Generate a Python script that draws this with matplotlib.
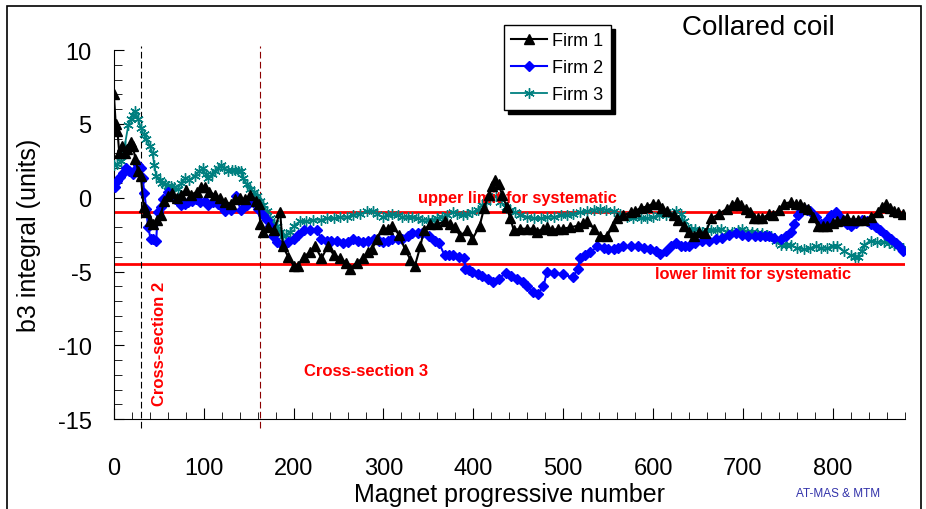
import matplotlib.pyplot as plt
from matplotlib.patches import Rectangle
from matplotlib.ticker import MultipleLocator

plt.rcParams['font.family'] = ['Liberation Sans', 'DejaVu Sans']
plt.rcParams['axes.unicode_minus'] = False

# Firm 1 (black triangles)
x1 = [0, 2, 4, 6, 9, 12, 15, 19, 21, 24, 27, 30, 33, 36, 40, 44, 48, 52, 56, 60,
      65, 70, 75, 80, 86, 92, 97, 101, 106, 112, 118, 124, 130, 135, 140, 146, 152, 158, 161, 163,
      166, 172, 178, 185, 188, 194, 200, 205, 211, 218, 224, 231, 238, 245, 252, 258, 263, 270, 277, 283,
      287, 293, 299, 305, 310, 317, 324, 330, 335, 341, 345, 352, 360, 368, 374, 380, 385, 393, 399, 407,
      412, 417, 421, 424, 428, 432, 437, 441, 445, 452, 460, 466, 471, 477, 482, 488, 494, 500, 508, 516,
      522, 527, 534, 541, 549, 555, 560, 567, 575, 580, 586, 593, 600, 606, 610, 616, 623, 628, 634, 640,
      645, 651, 658, 665, 673, 682, 688, 693, 698, 703, 708, 712, 717, 721, 729, 733, 740, 746, 753, 759,
      764, 768, 772, 778, 783, 789, 794, 800, 805, 811, 816, 822, 828, 835, 842, 850, 855, 859, 864, 868,
      873, 878]
y1 = [7.0, 5.0, 4.5, 3.0, 3.5, 3.0, 3.3, 3.8, 3.5, 2.6, 1.8, 1.5, -0.6, -1.0, -1.6, -1.8, -1.5, -1.2, -0.2, 0.1,
      0.3, 0.0, 0.2, 0.5, 0.2, 0.4, 0.7, 0.75, 0.4, 0.2, 0.0, -0.3, -0.4, -0.1, 0.0, -0.1, 0.2, -0.2, -0.4, -1.8,
      -2.3, -2.0, -2.2, -1.0, -3.3, -4.0, -4.6, -4.6, -4.0, -3.7, -3.3, -4.1, -3.3, -3.9, -4.1, -4.4, -4.8, -4.4, -4.1, -3.7,
      -3.5, -2.8, -2.1, -2.1, -1.9, -2.5, -3.5, -4.2, -4.6, -3.3, -2.2, -1.8, -1.8, -1.6, -1.8, -2.0, -2.6, -2.2, -2.8, -1.9,
      -0.7, 0.2, 0.8, 1.2, 0.9, 0.2, -0.6, -1.4, -2.2, -2.1, -2.1, -2.1, -2.3, -2.1, -2.0, -2.2, -2.1, -2.1, -2.0, -1.9,
      -1.7, -1.6, -2.1, -2.6, -2.6, -1.9, -1.4, -1.2, -1.0, -0.9, -0.7, -0.6, -0.4, -0.4, -0.7, -0.9, -1.2, -1.5, -1.9, -2.3,
      -2.6, -2.3, -2.4, -1.4, -1.1, -0.75, -0.5, -0.3, -0.5, -0.75, -1.0, -1.4, -1.4, -1.4, -1.1, -1.2, -0.8, -0.4, -0.3, -0.4,
      -0.4, -0.6, -0.75, -1.3, -1.9, -1.9, -1.9, -1.7, -1.6, -1.5, -1.4, -1.5, -1.5, -1.5, -1.3, -1.0, -0.6, -0.4, -0.7, -0.9,
      -1.0, -1.1]

# Firm 2 (blue diamonds)
x2 = [1, 4, 7, 10, 13, 17, 21, 24, 27, 30, 32, 34, 36, 38, 41, 44, 47, 49, 52, 55,
      60, 64, 68, 72, 75, 79, 82, 87, 91, 96, 101, 105, 110, 116, 120, 124, 130, 136, 141, 148,
      155, 160, 166, 170, 174, 177, 182, 188, 194, 200, 205, 211, 218, 226, 231, 237, 242, 248, 255, 260,
      266, 272, 277, 283, 289, 295, 299, 305, 310, 316, 321, 327, 332, 338, 343, 351, 357, 362, 368, 373,
      377, 384, 390, 391, 395, 399, 405, 410, 416, 422, 428, 436, 442, 449, 455, 460, 466, 472, 478, 482,
      490, 500, 511, 516, 519, 524, 530, 538, 545, 550, 556, 561, 567, 575, 583, 590, 597, 603, 608, 614,
      620, 626, 631, 636, 640, 647, 654, 662, 670, 677, 685, 692, 699, 706, 713, 719, 725, 729, 735, 742,
      748, 753, 757, 761, 765, 767, 771, 775, 781, 787, 792, 798, 803, 808, 812, 816, 820, 826, 833, 838,
      842, 848, 853, 859, 865, 870, 874, 878]
y2 = [0.7, 1.1, 1.4, 1.7, 2.0, 1.8, 1.6, 1.9, 2.2, 2.0, 1.3, 0.3, -0.75, -2.0, -2.8, -2.8, -2.9, -1.0, -0.6, -0.1,
      0.4, 0.1, -0.1, -0.3, -0.5, -0.4, -0.3, -0.2, -0.1, -0.3, -0.2, -0.5, -0.3, -0.4, -0.6, -0.9, -0.8, 0.1, -0.8, -0.5,
      -0.3, -0.75, -1.2, -1.5, -1.9, -2.6, -3.0, -3.3, -3.0, -2.8, -2.5, -2.2, -2.2, -2.2, -2.8, -2.9, -2.9, -2.9, -3.1, -3.0,
      -2.8, -2.9, -3.0, -2.9, -2.8, -2.9, -3.0, -2.9, -2.8, -2.8, -2.8, -2.6, -2.4, -2.4, -2.4, -2.6, -2.9, -3.1, -3.9, -3.9,
      -3.9, -4.0, -4.1, -4.8, -4.9, -5.0, -5.2, -5.3, -5.5, -5.7, -5.5, -5.1, -5.3, -5.5, -5.7, -6.0, -6.4, -6.5, -6.0, -5.0,
      -5.1, -5.2, -5.4, -4.8, -4.1, -3.9, -3.7, -3.3, -3.4, -3.5, -3.5, -3.4, -3.3, -3.3, -3.3, -3.4, -3.5, -3.6, -3.8, -3.6,
      -3.3, -3.1, -3.3, -3.3, -3.3, -3.1, -2.9, -2.9, -2.8, -2.7, -2.5, -2.4, -2.5, -2.6, -2.6, -2.6, -2.6, -2.6, -2.7, -2.8,
      -2.6, -2.3, -1.8, -1.2, -0.9, -0.75, -0.8, -0.9, -1.3, -1.8, -1.6, -1.2, -1.0, -1.3, -1.6, -1.8, -1.9, -1.7, -1.5, -1.6,
      -1.8, -2.0, -2.2, -2.5, -2.8, -3.1, -3.3, -3.6]

# Firm 3 (teal asterisks)
x3 = [0, 4, 8, 12, 16, 19, 21, 24, 27, 30, 33, 36, 40, 43, 45, 47, 51, 54, 57, 60,
      63, 67, 71, 75, 79, 84, 90, 95, 99, 102, 105, 109, 112, 116, 119, 123, 127, 131, 135, 138,
      141, 144, 148, 152, 156, 159, 163, 166, 170, 174, 178, 181, 185, 188, 192, 196, 200, 207, 214, 222,
      230, 237, 245, 252, 259, 266, 274, 282, 288, 293, 299, 305, 310, 316, 321, 327, 332, 338, 343, 349,
      354, 360, 365, 371, 377, 382, 388, 393, 399, 405, 410, 414, 418, 425, 430, 436, 441, 446, 452, 460,
      467, 475, 482, 490, 497, 504, 511, 519, 527, 534, 541, 548, 556, 563, 571, 578, 586, 593, 600, 607,
      614, 619, 625, 631, 634, 637, 642, 647, 654, 660, 665, 671, 676, 682, 688, 694, 699, 705, 710, 716,
      721, 727, 731, 737, 742, 748, 753, 760, 768, 775, 781, 787, 794, 800, 805, 812, 820, 825, 828, 832,
      835, 842, 849, 857, 862, 868, 873, 878]
y3 = [2.2, 2.3, 2.5, 3.5, 4.9, 5.3, 5.6, 5.9, 5.3, 4.7, 4.3, 4.0, 3.5, 3.0, 2.2, 1.5, 1.2, 1.0, 0.9, 0.8,
      0.8, 0.7, 0.6, 1.0, 1.3, 1.2, 1.5, 1.8, 2.0, 1.6, 1.3, 1.6, 1.8, 2.0, 2.2, 2.0, 1.8, 1.9, 1.9, 1.8,
      1.8, 1.3, 0.9, 0.6, 0.4, 0.1, -0.2, -0.5, -0.9, -1.4, -1.7, -1.9, -2.3, -2.6, -2.5, -2.3, -1.9, -1.6, -1.6, -1.5,
      -1.5, -1.4, -1.4, -1.3, -1.3, -1.2, -1.1, -0.9, -0.9, -1.1, -1.3, -1.2, -1.1, -1.2, -1.3, -1.3, -1.3, -1.4, -1.5, -1.5,
      -1.5, -1.4, -1.3, -1.2, -1.0, -1.1, -1.2, -1.1, -1.0, -0.8, -0.5, -0.3, -0.1, 0.1, -0.3, -0.6, -0.8, -1.0, -1.2, -1.3,
      -1.4, -1.4, -1.3, -1.3, -1.2, -1.2, -1.1, -1.0, -0.9, -0.8, -0.75, -0.8, -0.9, -1.1, -1.3, -1.4, -1.4, -1.4, -1.3, -1.2,
      -1.2, -1.1, -0.9, -1.1, -1.6, -2.0, -2.1, -2.1, -2.3, -2.2, -2.2, -2.2, -2.1, -2.3, -2.3, -2.2, -2.1, -2.3, -2.3, -2.4,
      -2.4, -2.5, -2.6, -2.9, -3.2, -3.2, -3.2, -3.4, -3.5, -3.4, -3.3, -3.4, -3.4, -3.3, -3.3, -3.6, -3.9, -4.0, -4.0, -3.6,
      -3.2, -2.9, -3.0, -3.0, -3.1, -3.2, -3.3, -3.4]

upper_limit = -1.0
lower_limit = -4.5
cs2_x = 30
cs3_x = 163

fig = plt.figure(figsize=(9.26, 5.10), dpi=100)
ax = fig.add_axes([0.123, 0.176, 0.854, 0.724])

ax.plot(x3, y3, color='#008080', lw=1.3, marker=(6, 2, 0), ms=7.5, mew=1.0, label='Firm 3', zorder=3)
ax.plot(x2, y2, color='#0000FF', lw=1.5, marker='D', ms=5, label='Firm 2', zorder=4)
ax.plot(x1, y1, color='black', lw=1.5, marker='^', ms=7, label='Firm 1', zorder=5)

ax.plot([0, 880], [upper_limit, upper_limit], color='#FF0000', lw=2, zorder=2)
ax.plot([0, 880], [lower_limit, lower_limit], color='#FF0000', lw=2, zorder=2)
ax.vlines(cs2_x, -15.6, 10.3, colors='black', linestyles=(0, (6, 3)), lw=0.8, clip_on=False)
ax.vlines(cs3_x, -15.6, 10.3, colors='#8B0000', linestyles=(0, (6, 3)), lw=0.8, clip_on=False)

ax.text(449, 0.0, 'upper limit for systematic', color='#FF0000', fontsize=11.8,
        fontweight='bold', ha='center', va='center')
ax.text(602, -5.1, 'lower limit for systematic', color='#FF0000', fontsize=11.8,
        fontweight='bold', ha='left', va='center')
ax.text(211, -11.7, 'Cross-section 3', color='#FF0000', fontsize=12,
        fontweight='bold', ha='left', va='center')
ax.text(51, -9.8, 'Cross-section 2', color='#FF0000', fontsize=12,
        fontweight='bold', ha='center', va='center', rotation=90)

ax.set_xlim(0, 880)
ax.set_ylim(-15, 10)
ax.xaxis.set_major_locator(MultipleLocator(100))
ax.xaxis.set_minor_locator(MultipleLocator(20))
ax.yaxis.set_major_locator(MultipleLocator(5))
ax.yaxis.set_minor_locator(MultipleLocator(1))
ax.tick_params(axis='x', which='major', direction='in', length=8, labelsize=17, pad=27)
ax.tick_params(axis='x', which='minor', direction='in', length=5)
ax.tick_params(axis='y', which='major', direction='in', length=7, labelsize=17, pad=16)
ax.tick_params(axis='y', which='minor', direction='in', length=6)
for s in ['top', 'right']:
    ax.spines[s].set_visible(False)

ax.set_xlabel('Magnet progressive number', fontsize=18, labelpad=2)
ax.set_ylabel('b3 integral (units)', fontsize=18, labelpad=12)

handles, labels = ax.get_legend_handles_labels()
order = [2, 1, 0]
leg = ax.legend([handles[i] for i in order], [labels[i] for i in order],
                loc='upper left', bbox_to_anchor=(0.544, 0.949), bbox_transform=fig.transFigure,
                fontsize=13, fancybox=False, edgecolor='black', framealpha=1,
                shadow={'color': 'black', 'alpha': 1, 'ox': 3, 'oy': -3},
                handlelength=2.0, borderpad=0.4, labelspacing=0.55, handletextpad=0.3,
                borderaxespad=0)
leg.get_frame().set_linewidth(1)

fig.text(0.737, 0.946, 'Collared coil', fontsize=20, ha='left', va='center')
fig.text(0.905, 0.031, 'AT-MAS & MTM', fontsize=8.5, color='#3333AA', ha='center', va='center')

fig.patches.append(Rectangle((0.008, -0.02), 0.987, 1.006, transform=fig.transFigure,
                             fill=False, edgecolor='black', lw=1.2))

fig.savefig('out.png', dpi=100)
